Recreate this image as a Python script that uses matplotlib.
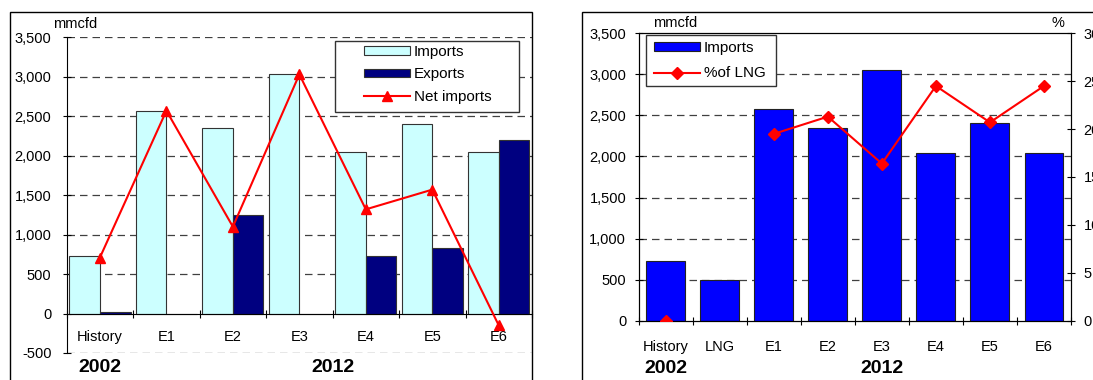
import numpy as np
import matplotlib
matplotlib.use('Agg')
import matplotlib.pyplot as plt
from matplotlib.patches import Rectangle, Patch
from matplotlib.lines import Line2D
from matplotlib.transforms import IdentityTransform

plt.rcParams['font.family'] = ['Liberation Sans', 'DejaVu Sans']

# left panel: imports / exports / net imports
cats_a = ['History', 'E1', 'E2', 'E3', 'E4', 'E5', 'E6']
imports_a = [730, 2570, 2350, 3030, 2050, 2400, 2050]
exports_a = [20, 0, 1250, 0, 730, 830, 2200]
net_a = [710, 2570, 1100, 3030, 1320, 1570, -150]
yticks_a = [-500, 0, 500, 1000, 1500, 2000, 2500, 3000, 3500]
ylabels_a = ['-500', '0', '500', '1,000', '1,500', '2,000', '2,500', '3,000', '3,500']

# right panel: imports and LNG share
cats_b = ['History', 'LNG', 'E1', 'E2', 'E3', 'E4', 'E5', 'E6']
imports_b = [730, 500, 2580, 2350, 3050, 2040, 2410, 2040]
lng_share = [0, np.nan, 19.5, 21.3, 16.4, 24.5, 20.7, 24.5]
yticks_b = [0, 500, 1000, 1500, 2000, 2500, 3000, 3500]
ylabels_b = ['0', '500', '1,000', '1,500', '2,000', '2,500', '3,000', '3,500']
pct_ticks = [0, 5, 10, 15, 20, 25, 30]

W, H = 1093, 380
fig = plt.figure(figsize=(W / 100, H / 100), dpi=100)

def px_axes(x0, x1, ytop, ybot):
    return fig.add_axes([x0 / W, (H - ybot) / H, (x1 - x0) / W, (ybot - ytop) / H])

def px_box(ax, x0, ytop, x1, ybot):
    # white legend frame given in pixel coordinates (top-left origin)
    ax.add_patch(Rectangle((x0, H - ybot), x1 - x0, ybot - ytop, transform=IdentityTransform(),
                           fc='white', ec='#333333', lw=1.0, zorder=4.5, clip_on=False))

def dashed_grid(ax, levels):
    for v in levels:
        ax.axhline(v, color='#404040', lw=0.9, dashes=(6, 4), zorder=0.5)

# chart frames
fig.add_artist(Rectangle((10 / W, -0.2), (531.7 - 10) / W, (H - 11.7) / H + 0.2,
                         transform=fig.transFigure, fill=False, lw=1.0, ec='black'))
fig.add_artist(Rectangle((582 / W, -0.2), 0.6, (H - 11.7) / H + 0.2,
                         transform=fig.transFigure, fill=False, lw=1.0, ec='black'))

# ---------- left chart ----------
ax = px_axes(66.7, 532, 37.3, 353)
x = np.arange(len(cats_a))
bw = 0.46
ax.bar(x - bw / 2, imports_a, bw, color='#CCFFFF', edgecolor='#333333', lw=0.8, zorder=2)
ax.bar(x + bw / 2, exports_a, bw, color='#000080', edgecolor='#333333', lw=0.8, zorder=2)
ax.plot(x, net_a, color='#FF0000', lw=1.5, marker='^', ms=7, zorder=4)
dashed_grid(ax, [-500, 500, 1000, 1500, 2000, 2500, 3000, 3500])

ax.set_xlim(-0.5, len(cats_a) - 0.5)
ax.set_ylim(-500, 3500)
for s in ['top', 'right']:
    ax.spines[s].set_visible(False)
ax.spines['bottom'].set_position(('data', 0))
ax.spines['left'].set_linewidth(0.8)
ax.spines['bottom'].set_linewidth(0.8)
ax.set_yticks(yticks_a)
ax.set_yticklabels(ylabels_a)
ax.set_xticks(np.arange(len(cats_a) + 1) - 0.5)
ax.set_xticklabels([])
ax.set_xticks(x, minor=True)
ax.set_xticklabels(cats_a, minor=True)
ax.tick_params(axis='y', direction='inout', length=6, width=0.8, pad=8, labelsize=10.5)
ax.tick_params(axis='x', which='major', direction='inout', length=6, width=0.8)
ax.tick_params(axis='x', which='minor', length=0, pad=12, labelsize=10.5)
ax.text(0, -0.0475, '2002', transform=ax.get_xaxis_transform(), ha='center', va='center',
        fontsize=14, fontweight='bold')
ax.text(3.5, -0.0475, '2012', transform=ax.get_xaxis_transform(), ha='center', va='center',
        fontsize=14, fontweight='bold')
fig.text(53 / W, (H - 24) / H, 'mmcfd', ha='left', va='center', fontsize=10.5)

px_box(ax, 335, 40.7, 519.3, 112)
leg_items = [Patch(fc='#CCFFFF', ec='#333333', lw=0.8),
             Patch(fc='#000080', ec='#333333', lw=0.8),
             Line2D([], [], color='#FF0000', lw=1.5, marker='^', ms=7)]
leg = ax.legend(leg_items, ['Imports', 'Exports', 'Net imports'], loc='upper left',
                bbox_to_anchor=((364 - 66.7) / 465.3, (353 - 45) / 315.7),
                frameon=False, borderpad=0, borderaxespad=0, handlelength=3,
                handleheight=0.5, handletextpad=0.25, labelspacing=0.55, fontsize=11)
leg.set_zorder(5)

# ---------- right chart ----------
bx = px_axes(638.7, 1071, 33.3, 320.7)
xb = np.arange(len(cats_b))
bx.bar(xb, imports_b, 0.72, color='#0000FF', edgecolor='#222222', lw=0.8, zorder=2)
dashed_grid(bx, [500, 1000, 1500, 2000, 2500, 3000])
bx.set_xlim(-0.5, len(cats_b) - 0.5)
bx.set_ylim(0, 3500)
for s in bx.spines.values():
    s.set_linewidth(0.8)
bx.set_yticks(yticks_b)
bx.set_yticklabels(ylabels_b)
bx.set_xticks(np.arange(len(cats_b) + 1) - 0.5)
bx.set_xticklabels([])
bx.set_xticks(xb, minor=True)
bx.set_xticklabels(cats_b, minor=True)
bx.tick_params(axis='y', direction='inout', length=6, width=0.8, pad=6, labelsize=10.5)
bx.tick_params(axis='x', which='major', direction='inout', length=6, width=0.8)
bx.tick_params(axis='x', which='minor', length=0, pad=14, labelsize=10.5)

bx2 = bx.twinx()
bx2.plot(xb, lng_share, color='#FF0000', lw=1.5, marker='D', ms=6, zorder=4)
bx2.set_ylim(0, 30)
bx2.set_yticks(pct_ticks)
bx2.tick_params(axis='y', direction='inout', length=6, width=0.8, pad=6, labelsize=10.5)
for s in bx2.spines.values():
    s.set_linewidth(0.8)

bx.text(0, -0.1656, '2002', transform=bx.get_xaxis_transform(), ha='center', va='center',
        fontsize=14, fontweight='bold')
bx.text(4, -0.1656, '2012', transform=bx.get_xaxis_transform(), ha='center', va='center',
        fontsize=14, fontweight='bold')
fig.text(653 / W, (H - 23.3) / H, 'mmcfd', ha='left', va='center', fontsize=10.5)
fig.text(1058 / W, (H - 23) / H, '%', ha='center', va='center', fontsize=10.5)

px_box(bx2, 646.3, 35, 776, 86)
leg2_items = [Patch(fc='#0000FF', ec='#222222', lw=0.8),
              Line2D([], [], color='#FF0000', lw=1.5, marker='D', ms=6)]
leg2 = bx2.legend(leg2_items, ['Imports', '%of LNG'], loc='upper left',
                  bbox_to_anchor=((654 - 638.7) / 432.3, (320.7 - 41) / 287.4),
                  frameon=False, borderpad=0, borderaxespad=0, handlelength=3,
                  handleheight=0.5, handletextpad=0.25, labelspacing=0.75, fontsize=11)
leg2.set_zorder(5)

fig.savefig('out.png', dpi=100)
